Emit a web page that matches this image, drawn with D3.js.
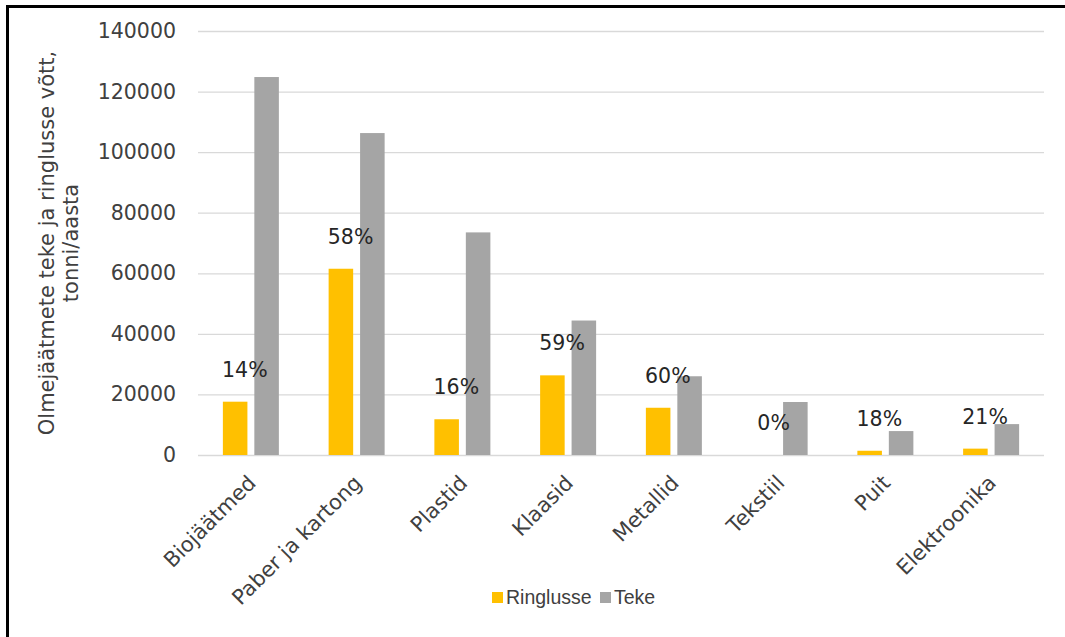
<!DOCTYPE html>
<html>
<head>
<meta charset="utf-8">
<script src="https://cdn.jsdelivr.net/npm/d3@7"></script>
<style>
  html, body { margin: 0; padding: 0; background: #fff; }
  svg { display: block; }
</style>
</head>
<body>
<div id="chart"></div>
<script>
// chart data
const categories = ['Biojäätmed', 'Paber ja kartong', 'Plastid', 'Klaasid', 'Metallid', 'Tekstiil', 'Puit', 'Elektroonika'];
const seriesNames = ['Ringlusse', 'Teke'];
const ringlusse = [17600, 61500, 11800, 26300, 15600, 0, 1400, 2100];
const teke = [124800, 106300, 73500, 44400, 26000, 17500, 7900, 10200];
const shares = ['14%', '58%', '16%', '59%', '60%', '0%', '18%', '21%'];
const yTicks = [0, 20000, 40000, 60000, 80000, 100000, 120000, 140000];
const yTitle = ['Olmejäätmete teke ja ringlusse võtt,', 'tonni/aasta'];

const W = 1065, H = 637;
const margin = { top: 31, right: 21, bottom: 182, left: 198 };
const colors = { Ringlusse: '#FFC000', Teke: '#A5A5A5' };
const font = 'DejaVu Sans, Verdana, sans-serif';

const svg = d3.select('#chart').append('svg')
  .attr('width', W)
  .attr('height', H);

// frame (only top & left edges are visible in the picture)
svg.append('path')
  .attr('d', `M7.5,${H} V6.5 H${W}`)
  .attr('fill', 'none')
  .attr('stroke', '#000')
  .attr('stroke-width', 3);

const plotW = W - margin.left - margin.right;
const plotH = H - margin.top - margin.bottom;

const x0 = d3.scaleBand().domain(categories).range([margin.left, margin.left + plotW]);
const x1 = d3.scaleBand().domain(seriesNames).range([0, 56]).paddingInner(0.22);
const y = d3.scaleLinear().domain([0, 140000]).range([margin.top + plotH, margin.top]);

// gridlines + tick labels
const yAxis = svg.append('g')
  .attr('transform', `translate(${margin.left},0)`)
  .call(d3.axisLeft(y).tickValues(yTicks).tickSize(-plotW).tickPadding(22).tickFormat(d3.format('d')));
yAxis.select('.domain').remove();
yAxis.selectAll('.tick line').attr('stroke', '#D9D9D9').attr('stroke-width', 1.3);
yAxis.selectAll('.tick text')
  .attr('fill', '#404040')
  .style('font-family', font)
  .style('font-size', '20.5px');

// bars
const groupOffset = (x0.bandwidth() - 56) / 2;
const rows = categories.map((c, i) => ({ cat: c, Ringlusse: ringlusse[i], Teke: teke[i], share: shares[i] }));

const groups = svg.append('g').selectAll('g')
  .data(rows)
  .join('g')
  .attr('transform', d => `translate(${x0(d.cat) + groupOffset},0)`);

groups.selectAll('rect')
  .data(d => seriesNames.map(s => ({ key: s, value: d[s] })))
  .join('rect')
  .attr('x', d => x1(d.key))
  .attr('y', d => y(d.value))
  .attr('width', x1.bandwidth())
  .attr('height', d => y(0) - y(d.value))
  .attr('fill', d => colors[d.key]);

// percentage labels
svg.append('g').selectAll('text')
  .data(rows)
  .join('text')
  .attr('x', d => x0(d.cat) + x0.bandwidth() / 2 - 6)
  .attr('y', d => y(d.Ringlusse) - 25)
  .attr('text-anchor', 'middle')
  .attr('fill', '#262626')
  .style('font-family', font)
  .style('font-size', '20.5px')
  .text(d => d.share);

// category labels
svg.append('g').selectAll('text')
  .data(categories)
  .join('text')
  .attr('transform', d => `translate(${x0(d) + x0.bandwidth() / 2 + 1},${y(0) + 24}) rotate(-45)`)
  .attr('text-anchor', 'end')
  .attr('dy', '0.35em')
  .attr('fill', '#404040')
  .style('font-family', font)
  .style('font-size', '21px')
  .text(d => d);

// y axis title
const yt = svg.append('text')
  .attr('transform', `translate(54,${margin.top + plotH / 2}) rotate(-90)`)
  .attr('text-anchor', 'middle')
  .attr('fill', '#404040')
  .style('font-family', font)
  .style('font-size', '21px');
yt.selectAll('tspan')
  .data(yTitle)
  .join('tspan')
  .attr('x', 0)
  .attr('dy', (d, i) => i === 0 ? 0 : '1.15em')
  .text(d => d);

// legend
const legend = svg.append('g').attr('transform', 'translate(492,592)');
const items = legend.selectAll('g')
  .data(seriesNames)
  .join('g')
  .attr('transform', (d, i) => `translate(${i === 0 ? 0 : 108},0)`);
items.append('rect')
  .attr('width', 11)
  .attr('height', 11)
  .attr('fill', d => colors[d]);
items.append('text')
  .attr('x', 14)
  .attr('y', 12)
  .attr('fill', '#404040')
  .style('font-family', 'Liberation Sans, Arial, sans-serif')
  .style('font-size', '19.5px')
  .text(d => d);
</script>
</body>
</html>
